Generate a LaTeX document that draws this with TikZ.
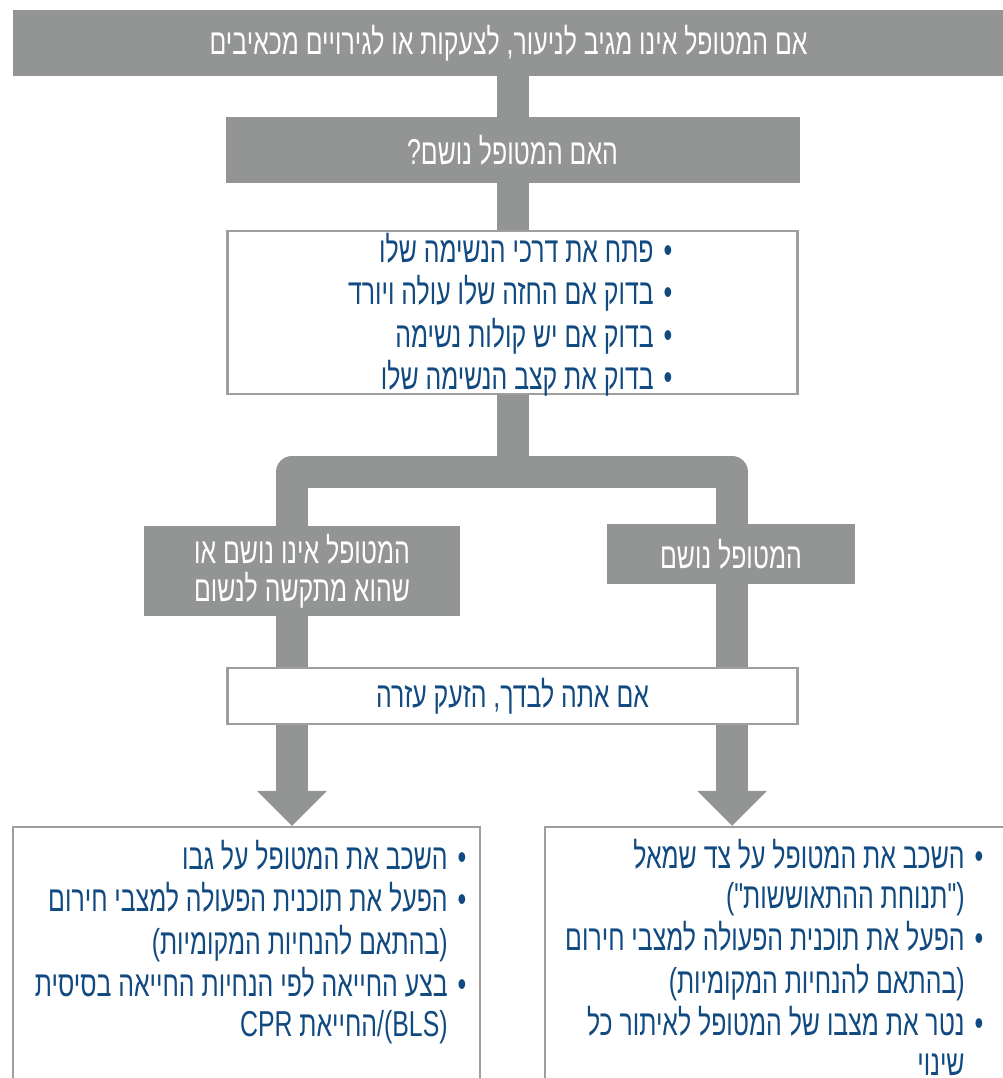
\documentclass[tikz,border=0pt]{standalone}
\usepackage{fontspec}
\setmainfont{Liberation Sans}
\newfontfamily\heb[Script=Hebrew,FakeStretch=0.69]{Liberation Sans}
\TeXXeTstate=1
\usetikzlibrary{arrows.meta,backgrounds}
\definecolor{boxgray}{RGB}{147,148,148}
\definecolor{txtblue}{RGB}{16,74,128}
\definecolor{framegray}{RGB}{158,158,158}
\newcommand{\RL}[1]{\beginR #1\endR}
\newcommand{\bul}{\textbullet\kern10pt}
\newcommand{\ind}{\phantom{\textbullet}\kern10pt}
\newcommand{\brk}{\kern0pt}
\tikzset{
  graybox/.style={rectangle, fill=boxgray, draw=none, text=white, inner sep=0pt, align=center, font=\heb\fontsize{36}{38}\selectfont},
  whitebox/.style={rectangle, fill=white, draw=framegray, line width=2.5pt, inner sep=0pt, text=txtblue, align=center, font=\heb\fontsize{36}{38}\selectfont},
  listtext/.style={inner sep=0pt, text=txtblue, align=right, anchor=north east, font=\heb\fontsize{36}{40}\selectfont},
  conn/.style={draw=boxgray, line width=32pt},
  arr/.style={conn, -{Triangle[width=70pt,length=35pt,line width=0pt]}}
}
\begin{document}
\begin{tikzpicture}[x=1pt,y=-1pt]
\useasboundingbox (0,0) rectangle (1002,1078);
% boxes
\node[graybox, minimum width=991pt, minimum height=66pt] (top) at (508.5,43)
  {\RL{אם המטופל אינו מגיב לניעור\brk, לצעקות או לגירויים מכאיבים}};
\node[graybox, minimum width=574pt, minimum height=66pt] (q) at (512.5,150)
  {\RL{האם המטופל נושם\brk?}};
\node[whitebox, minimum width=570pt, minimum height=163pt] (checks) at (512.5,312.5) {};
\node[listtext] (checkstxt) at (672.5,233) {%
  \RL{\bul פתח את דרכי הנשימה שלו}\strut\\
  \RL{\bul בדוק אם החזה שלו עולה ויורד}\strut\\
  \RL{\bul בדוק אם יש קולות נשימה}\strut\\
  \RL{\bul בדוק את קצב הנשימה שלו}\strut};
\node[graybox, minimum width=316pt, minimum height=90pt] (nobr) at (302,571)
  {\RL{המטופל אינו נושם או}\\ \RL{שהוא מתקשה לנשום}};
\node[graybox, minimum width=248pt, minimum height=60pt] (br) at (731,554)
  {\RL{המטופל נושם}};
\node[whitebox, minimum width=570pt, minimum height=56pt] (alone) at (512.5,696)
  {\RL{אם אתה לבדך\brk, הזעק עזרה}};
\node[whitebox, minimum width=467pt, minimum height=256pt] (lfin) at (246.5,955) {};
\node[listtext] (lfintxt) at (466.5,840) {%
  \RL{\bul השכב את המטופל על גבו}\strut\\
  \RL{\bul הפעל את תוכנית הפעולה למצבי חירום}\strut\\
  \RL{\ind (\brk בהתאם להנחיות המקומיות\brk)}\strut\\
  \RL{\bul בצע החייאה לפי הנחיות החייאה בסיסית}\strut\\
  \RL{\ind (BLS)\brk/\brk החייאת CPR}\strut};
\node[whitebox, minimum width=460pt, minimum height=256pt] (rfin) at (775,955) {};
\node[listtext] (rfintxt) at (983.5,839) {%
  \RL{\bul השכב את המטופל על צד שמאל}\strut\\
  \RL{\ind (\brk"\brk תנוחת ההתאוששות\brk"\brk)}\strut\\
  \RL{\bul הפעל את תוכנית הפעולה למצבי חירום}\strut\\
  \RL{\ind (\brk בהתאם להנחיות המקומיות\brk)}\strut\\
  \RL{\bul נטר את מצבו של המטופל לאיתור כל}\strut\\
  \RL{\ind שינוי}};
% junction coordinates
\coordinate (split) at (512.5,472);
\coordinate (lc) at (292,472);
\coordinate (rc) at (732,472);
% connectors
\begin{pgfonlayer}{background}
  \draw[conn] (top.south -| q) -- (q);
  \draw[conn] (q) -- (checks);
  \draw[conn] (checks) -- (split);
  \draw[conn, line join=round] (alone.north -| lc) -- (lc) -- (rc) -- (alone.north -| rc);
\end{pgfonlayer}
\draw[arr] (alone.south -| lc) -- (lfin.north -| lc);
\draw[arr] (alone.south -| rc) -- (rfin.north -| rc);
\end{tikzpicture}
\end{document}
